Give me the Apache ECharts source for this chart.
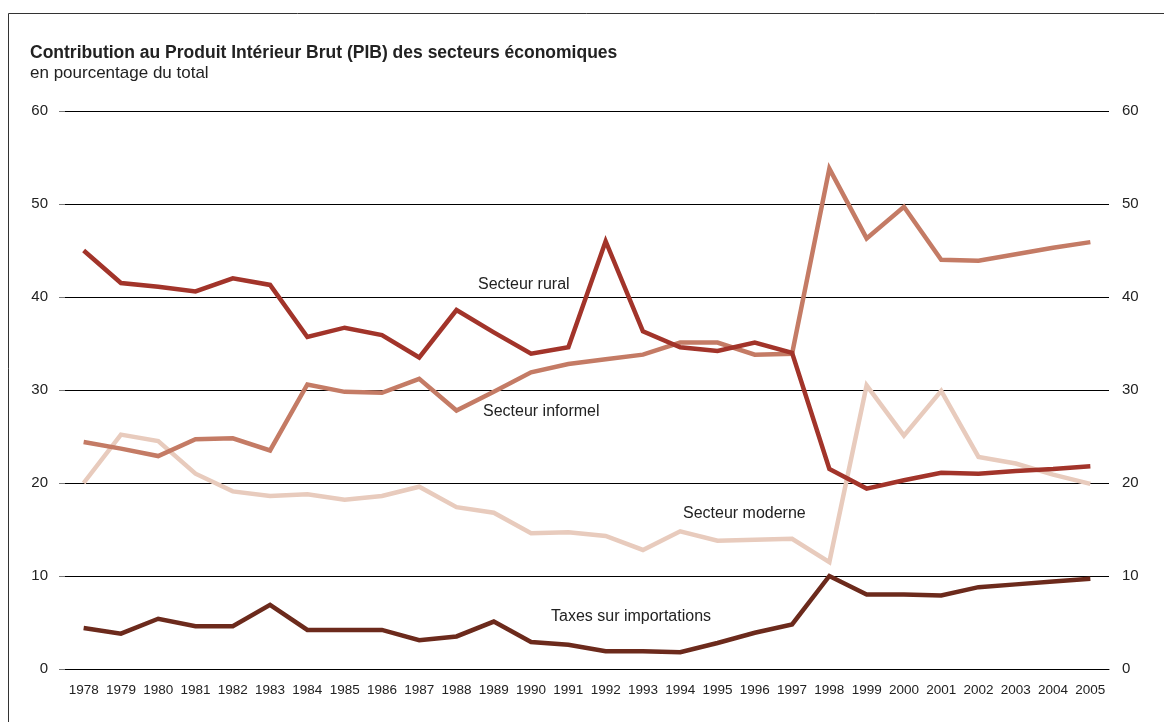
<!DOCTYPE html>
<html>
<head>
<meta charset="utf-8">
<script src="https://cdn.jsdelivr.net/npm/echarts@6/dist/echarts.min.js"></script>
<style>
html, body { margin: 0; padding: 0; background: #fff; }
#main { width: 1164px; height: 722px; }
</style>
</head>
<body>
<div id="main"></div>
<script>
var years = ['1978','1979','1980','1981','1982','1983','1984','1985','1986','1987',
  '1988','1989','1990','1991','1992','1993','1994','1995','1996','1997',
  '1998','1999','2000','2001','2002','2003','2004','2005'];

var rural = [45.0, 41.5, 41.1, 40.6, 42.0, 41.3, 35.7, 36.7, 35.9, 33.5,
  38.6, 36.2, 33.9, 34.6, 46.0, 36.3, 34.6, 34.2, 35.1, 34.0,
  21.5, 19.4, 20.3, 21.1, 21.0, 21.3, 21.5, 21.8];

var informel = [24.4, 23.7, 22.9, 24.7, 24.8, 23.5, 30.6, 29.8, 29.7, 31.2,
  27.8, 29.8, 31.9, 32.8, 33.3, 33.8, 35.1, 35.1, 33.8, 33.9,
  53.8, 46.3, 49.7, 44.0, 43.9, 44.6, 45.3, 45.9];

var moderne = [20.0, 25.2, 24.5, 21.0, 19.1, 18.6, 18.8, 18.2, 18.6, 19.6,
  17.4, 16.8, 14.6, 14.7, 14.3, 12.8, 14.8, 13.8, 13.9, 14.0,
  11.5, 30.5, 25.1, 29.9, 22.8, 22.1, 20.9, 19.9];

var taxes = [4.4, 3.8, 5.4, 4.6, 4.6, 6.9, 4.2, 4.2, 4.2, 3.1,
  3.5, 5.1, 2.9, 2.6, 1.9, 1.9, 1.8, 2.8, 3.9, 4.8,
  10.0, 8.0, 8.0, 7.9, 8.8, 9.1, 9.4, 9.7];

var font = 'Liberation Sans, Arial, sans-serif';

function lineSeries(name, data, color) {
  return {
    name: name,
    type: 'line',
    data: data,
    symbol: 'none',
    lineStyle: { width: 4.5, color: color, join: 'miter' },
    itemStyle: { color: color },
    z: 3
  };
}

var chart = echarts.init(document.getElementById('main'));
chart.setOption({
  animation: false,
  backgroundColor: '#fff',
  textStyle: { fontFamily: font },
  title: {
    text: 'Contribution au Produit Intérieur Brut (PIB) des secteurs économiques',
    subtext: 'en pourcentage du total',
    left: 30,
    top: 44,
    padding: 0,
    itemGap: 3,
    textStyle: { fontFamily: font, fontSize: 17.5, fontWeight: 'bold', color: '#222' },
    subtextStyle: { fontFamily: font, fontSize: 17, color: '#222' }
  },
  grid: { left: 65, right: 55, top: 111, bottom: 53 },
  xAxis: {
    type: 'category',
    data: years,
    boundaryGap: true,
    axisLine: { lineStyle: { color: '#000', width: 1 } },
    axisTick: { length: 4, lineStyle: { color: '#000' } },
    axisLabel: { color: '#222', fontSize: 13.5, margin: 14, fontFamily: font, interval: 0 }
  },
  yAxis: [{
    type: 'value',
    min: 0, max: 60, interval: 10,
    position: 'left',
    axisLine: { show: false },
    axisTick: { show: true, length: 6, lineStyle: { color: '#777' } },
    axisLabel: { color: '#222', fontSize: 15, margin: 17, fontFamily: font },
    splitLine: { lineStyle: { color: '#000', width: 1 } }
  }, {
    type: 'value',
    min: 0, max: 60, interval: 10,
    position: 'right',
    axisLine: { show: false },
    axisTick: { show: false },
    axisLabel: { color: '#222', fontSize: 15, margin: 13, fontFamily: font },
    splitLine: { show: false }
  }],
  series: [
    lineSeries('Secteur moderne', moderne, '#e8cbbd'),
    lineSeries('Secteur informel', informel, '#c47b65'),
    lineSeries('Secteur rural', rural, '#a2342a'),
    lineSeries('Taxes sur importations', taxes, '#6c2a1c')
  ],
  graphic: [
    { type: 'rect', shape: { x: 8.5, y: 13.5, width: 1200, height: 800 },
      style: { fill: 'none', stroke: '#333', lineWidth: 1 }, silent: true, z: 0 },
    { type: 'text', left: 478, top: 277, style: { text: 'Secteur rural', font: '16px ' + font, fill: '#222' } },
    { type: 'text', left: 483, top: 404, style: { text: 'Secteur informel', font: '16px ' + font, fill: '#222' } },
    { type: 'text', left: 683, top: 506, style: { text: 'Secteur moderne', font: '16px ' + font, fill: '#222' } },
    { type: 'text', left: 551, top: 609, style: { text: 'Taxes sur importations', font: '16px ' + font, fill: '#222' } }
  ]
});
</script>
</body>
</html>
